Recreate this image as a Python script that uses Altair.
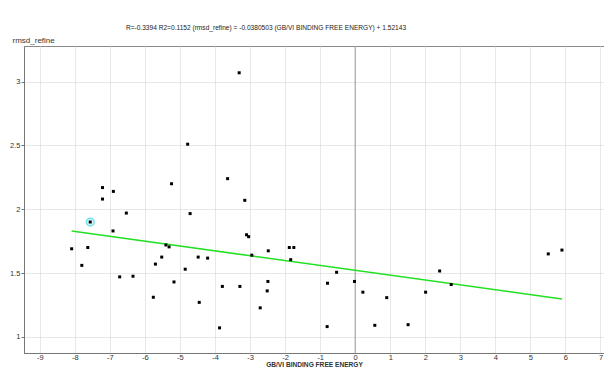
import altair as alt
import pandas as pd

# ---- data ----
gb_energy = [-8.09, -7.80, -7.63, -7.56, -7.21, -7.21, -6.90, -6.91, -6.53, -6.72,
             -6.34, -5.76, -5.70, -5.52, -5.40, -5.31, -5.24, -5.17, -4.85, -4.78,
             -4.71, -4.48, -4.21, -4.45, -3.87, -3.79, -3.64, -3.31, -3.29, -3.15,
             -3.10, -3.04, -2.95, -2.71, -2.51, -2.49, -2.48, -1.88, -1.84, -1.75,
             -0.80, -0.79, -0.53, -0.02, 0.22, 0.56, 0.90, 1.51, 2.01, 2.41,
             2.74, 5.51, 5.90]
rmsd_refine = [1.69, 1.56, 1.70, 1.90, 2.17, 2.08, 2.14, 1.83, 1.97, 1.47,
               1.475, 1.31, 1.57, 1.625, 1.72, 1.705, 2.20, 1.43, 1.53, 2.51,
               1.966, 1.625, 1.617, 1.27, 1.07, 1.395, 2.24, 3.07, 1.395, 2.07,
               1.80, 1.785, 1.64, 1.227, 1.36, 1.434, 1.674, 1.70, 1.605, 1.70,
               1.08, 1.42, 1.506, 1.434, 1.35, 1.09, 1.307, 1.095, 1.35, 1.516,
               1.41, 1.65, 1.68]
highlight_index = 3

slope = -0.0380503
intercept = 1.52143
r_value = -0.3394
r2_value = 0.1152

x_ticks = list(range(-9, 8))
y_ticks = [1, 1.5, 2, 2.5, 3]
x_domain = [-9.45, 7.1]
y_domain = [0.873, 3.28]

title_text = (f"R={r_value} R2={r2_value}    (rmsd_refine) = {slope} "
              f"(GB/VI BINDING FREE ENERGY) + {intercept}")

# ---- tables ----
pts = pd.DataFrame({"x": gb_energy, "y": rmsd_refine})
hl = pts.iloc[[highlight_index]]
x_min, x_max = min(gb_energy), max(gb_energy)
fit = pd.DataFrame({"x": [x_min, x_max],
                    "y": [slope * x_min + intercept, slope * x_max + intercept]})
zero = pd.DataFrame({"x": [0]})

FONT = "Liberation Sans, Arial"

xscale = alt.Scale(domain=x_domain, nice=False, zero=False)
yscale = alt.Scale(domain=y_domain, nice=False, zero=False)

xaxis = alt.Axis(values=x_ticks, title="GB/VI BINDING FREE ENERGY", tickSize=0,
                 labelPadding=0, titlePadding=1, labelFontSize=7.5, titleFontSize=6.6,
                 titleFontWeight="bold", labelColor="#333", titleColor="#333",
                 domainColor="#777", gridColor="#d0d0d0", gridDash=[1, 1],
                 labelOverlap=False, labelExpr="'' + datum.value",
                 labelFont=FONT, titleFont=FONT)
yaxis = alt.Axis(values=y_ticks, title="rmsd_refine", tickSize=3, tickColor="#777",
                 labelPadding=1, labelFontSize=7.5, titleFontSize=8,
                 labelColor="#333", titleColor="#333", domainColor="#777",
                 gridColor="#d0d0d0", gridDash=[1, 1], titleAngle=0,
                 labelOverlap=False, labelExpr="'' + datum.value",
                 titleAlign="left", titleBaseline="bottom", titleX=-12, titleY=-2,
                 labelFont=FONT, titleFont=FONT, titleFontWeight="normal")

base_x = alt.X("x:Q", scale=xscale, axis=xaxis)
base_y = alt.Y("y:Q", scale=yscale, axis=yaxis)

zero_rule = alt.Chart(zero).mark_rule(color="#999", strokeWidth=1).encode(x=base_x)

ring = alt.Chart(hl).mark_point(shape="circle", size=60, filled=True,
                                 fill="#dff8fa", stroke="#6fe3ee",
                                 strokeWidth=1.5, opacity=1).encode(x=base_x, y=base_y)

line = alt.Chart(fit).mark_line(color="#22e022", strokeWidth=1.6).encode(
    x=base_x, y=base_y)

dots = alt.Chart(pts).mark_square(size=9, color="black", opacity=1).encode(
    x=base_x, y=base_y)

chart = alt.layer(zero_rule, line, ring, dots).properties(
    width=596, height=361,
    autosize=alt.AutoSizeParams(type="fit", contains="padding"),
    title=alt.TitleParams(title_text, fontSize=6.6, fontWeight="normal", font=FONT,
                          color="#222", anchor="middle", dx=-48, offset=4),
    padding={"left": 1, "top": 17, "right": 0, "bottom": 0},
    background="white",
).configure_view(stroke="#888", strokeWidth=1)

chart.save("out.html", embed_options={"renderer": "svg", "actions": False})
